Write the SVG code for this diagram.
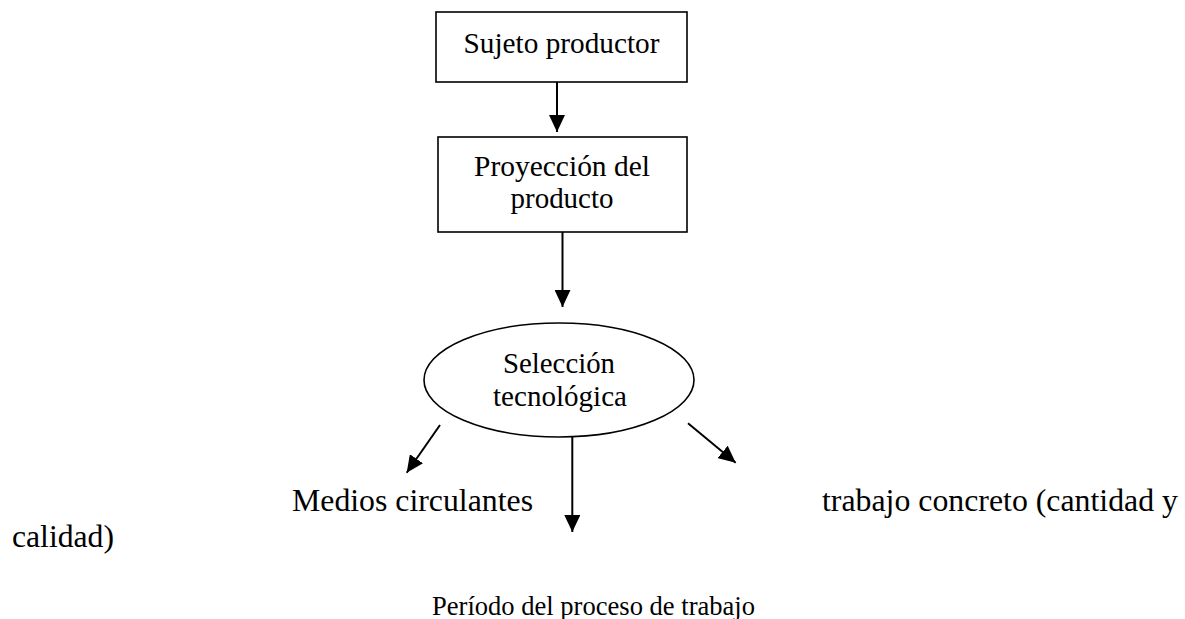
<svg xmlns="http://www.w3.org/2000/svg" width="1185" height="619" viewBox="0 0 1185 619">
<style>
  .box { fill: #ffffff; stroke: #000000; stroke-width: 1.6; }
  .t { font-family: "Liberation Serif", "Times New Roman", serif; fill: #000000; }
  .n { font-size: 30px; text-anchor: middle; }
  .b { font-size: 32px; }
  .s { font-size: 26.5px; text-anchor: middle; }
  .c { stroke: #000000; stroke-width: 2; fill: none; marker-end: url(#ah); }
</style>
<defs>
  <marker id="ah" markerUnits="userSpaceOnUse" markerWidth="17" markerHeight="16" refX="17" refY="8" orient="auto" viewBox="0 0 17 16">
    <path d="M0,0 L17,8 L0,16 z" fill="#000000"/>
  </marker>
</defs>
<rect width="1185" height="619" fill="#ffffff"/>
<g id="connectors">
  <line class="c" x1="557" y1="82" x2="557" y2="132"/>
  <line class="c" x1="562.5" y1="232" x2="562.5" y2="307"/>
  <line class="c" x1="440" y1="425" x2="406.7" y2="472.7"/>
  <line class="c" x1="572.3" y1="435" x2="572.3" y2="532"/>
  <line class="c" x1="688" y1="423.3" x2="735.7" y2="462.7"/>
</g>
<g id="node-sujeto">
  <rect class="box" x="436" y="12" width="251" height="70"/>
  <text class="t n" x="561.5" y="53" textLength="196" lengthAdjust="spacingAndGlyphs">Sujeto productor</text>
</g>
<g id="node-proyeccion">
  <rect class="box" x="438" y="137" width="249" height="95"/>
  <text class="t n" x="562" y="176" textLength="176" lengthAdjust="spacingAndGlyphs">Proyección del</text>
  <text class="t n" x="562" y="208" textLength="103" lengthAdjust="spacingAndGlyphs">producto</text>
</g>
<g id="node-seleccion">
  <ellipse class="box" cx="559" cy="380" rx="135" ry="57"/>
  <text class="t n" x="559" y="373" textLength="112" lengthAdjust="spacingAndGlyphs">Selección</text>
  <text class="t n" x="560" y="406" textLength="134" lengthAdjust="spacingAndGlyphs">tecnológica</text>
</g>
<g id="node-medios">
  <text class="t b" x="292" y="511" textLength="241" lengthAdjust="spacingAndGlyphs">Medios circulantes</text>
</g>
<g id="node-trabajo">
  <text class="t b" x="822" y="511" textLength="356" lengthAdjust="spacingAndGlyphs">trabajo concreto (cantidad y</text>
  <text class="t b" x="12" y="547" textLength="102" lengthAdjust="spacingAndGlyphs">calidad)</text>
</g>
<g id="node-periodo">
  <text class="t s" x="593.5" y="615" textLength="323" lengthAdjust="spacingAndGlyphs">Período del proceso de trabajo</text>
</g>
</svg>
